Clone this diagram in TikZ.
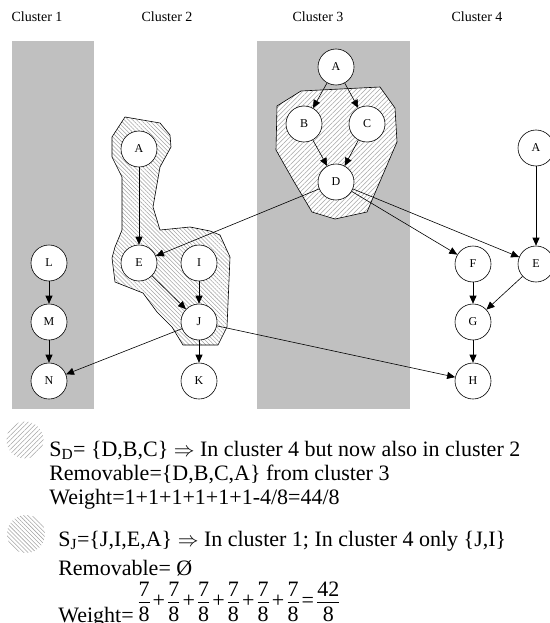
\documentclass[tikz,border=0pt]{standalone}
\usepackage{fontspec}
\setmainfont{Liberation Serif}
\usetikzlibrary{arrows.meta,patterns.meta}

\definecolor{clustergray}{RGB}{192,192,192}
\definecolor{hatchgray}{RGB}{165,165,165}

\newcommand{\sevenths}{\frac{\raisebox{-4pt}{7}}{\mbox{8}}}
\newcommand{\tplus}{\mbox{\hspace{2pt}+\hspace{2pt}}}

\tikzset{
  vertex/.style={draw,circle,fill=white,minimum size=36pt,inner sep=0pt,font=\fontsize{12}{14}\selectfont},
  region/.style={draw,preaction={fill=white}},
  hatchD/.style={pattern={Lines[angle=45,distance=3.3pt,line width=0.55pt]},pattern color=hatchgray},
  hatchJ/.style={pattern={Lines[angle=-45,distance=2.9pt,line width=0.55pt]},pattern color=hatchgray},
  clusterlabel/.style={font=\fontsize{14}{16}\selectfont},
  legendtext/.style={anchor=base west,inner sep=0pt,font=\fontsize{22}{24}\selectfont}
}

\begin{document}
\begin{tikzpicture}[x=1pt,y=-1pt,line width=0.6pt,>={Triangle[length=8pt,width=7pt]}]
		\useasboundingbox (0,0) rectangle (549,623);

		\fill[clustergray] (12,41) rectangle (94,409);
		\fill[clustergray] (257,41) rectangle (410,409);

		\node[clusterlabel] (c1) at (37,17) {Cluster 1};
		\node[clusterlabel] (c2) at (167,17) {Cluster 2};
		\node[clusterlabel] (c3) at (318,17) {Cluster 3};
		\node[clusterlabel] (c4) at (477,17) {Cluster 4};

		% hatched sets
		\draw[region,hatchD] (277,106) -- (301,91) -- (380,87) -- (395,108) -- (397,142)
			-- (375,193) -- (367,212) -- (335,219) -- (312,212) -- (293,180) -- (276,150) -- cycle;
		\draw[region,hatchJ] (125,117) -- (160,123) -- (170,135) -- (171,147) -- (160,167)
			-- (153,207) -- (160,230) -- (190,227) -- (210,231) -- (220,235) -- (230,257)
			-- (227,327) -- (218,345) -- (183,345) -- (172,327) -- (157,312) -- (143,293)
			-- (115,282) -- (112,258) -- (115,247) -- (122,230) -- (122,177) -- (112,157)
			-- (112,137) -- cycle;

		\node[vertex] (L) at (49,263) {L};
		\node[vertex] (M) at (49,322) {M};
		\node[vertex] (N) at (49,381) {N};

		\node[vertex] (A2) at (139,149) {A};
		\node[vertex] (E2) at (139,263) {E};
		\node[vertex] (I) at (199,263) {I};
		\node[vertex] (J) at (199,322) {J};
		\node[vertex] (K) at (199,381) {K};

		\node[vertex] (A3) at (336,67) {A};
		\node[vertex] (B) at (304,124) {B};
		\node[vertex] (C) at (367,124) {C};
		\node[vertex] (D) at (336,182) {D};

		\node[vertex] (A4) at (536,148) {A};
		\node[vertex] (F) at (473,264) {F};
		\node[vertex] (E4) at (536,264) {E};
		\node[vertex] (G) at (473,322) {G};
		\node[vertex] (H) at (473,381) {H};

		\draw[->] (L) -- (M);
		\draw[->] (M) -- (N);

		\draw[->] (A2) -- (E2);
		\draw[->] (E2) -- (J);
		\draw[->] (I) -- (J);
		\draw[->] (J) -- (K);
		\draw[->] (J) -- (N);
		\draw[->] (J) -- (H);

		\draw[->] (A3) -- (B);
		\draw[->] (A3) -- (C);
		\draw[->] (B) -- (D);
		\draw[->] (C) -- (D);
		\draw[->] (D) -- (E2);
		\draw[->] (D) -- (F);
		\draw[->] (D) -- (E4);

		\draw[->] (A4) -- (E4);
		\draw[->] (F) -- (G);
		\draw[->] (E4) -- (G);
		\draw[->] (G) -- (H);

		% legend
		\node[circle,minimum size=37pt,hatchD] (legD) at (25,440) {};
		\node[circle,minimum size=38pt,hatchJ] (legJ) at (26,534) {};

		\node[legendtext] (sD) at (49,456) {S\textsubscript{D}= \{D,B,C\} $\Rightarrow$ In cluster 4 but now also in cluster 2};
		\node[legendtext] (remD) at (49,480) {Removable=\{D,B,C,A\} from cluster 3};
		\node[legendtext] (wD) at (49,504) {Weight=1+1+1+1+1+1-4/8=44/8};

		\node[legendtext] (sJ) at (58,546) {S\textsubscript{J}=\{J,I,E,A\} $\Rightarrow$ In cluster 1; In cluster 4 only \{J,I\}};
		\node[legendtext] (remJ) at (58,575) {Removable= Ø};
		\node[legendtext] (wJ) at (58,622) {Weight=};
		\node[legendtext] (fracJ) at (137,607) {$\displaystyle \sevenths\tplus\sevenths\tplus\sevenths\tplus\sevenths\tplus\sevenths\tplus\sevenths\mbox{\hspace{2pt}=\hspace{2pt}}\frac{\raisebox{-4pt}{42}}{\mbox{8}}$};
	\end{tikzpicture}
\end{document}
